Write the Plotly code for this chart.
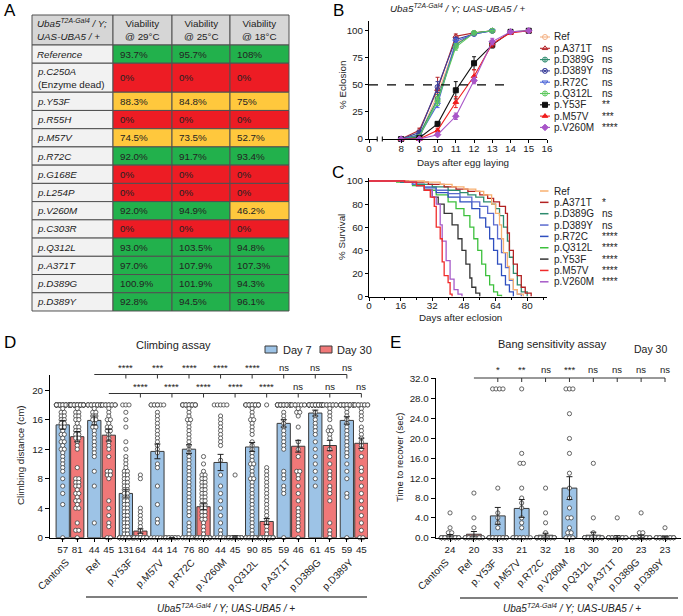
import plotly.graph_objects as go
import numpy as np

W, H = 683, 616
FONT = "Arial, 'Liberation Sans', Helvetica, sans-serif"
TXT = "#222222"


def X(px):
    return px / W


def Y(py):
    return 1 - py / H


# ---------------- Panel A : viability table ----------------
a_rows = ["Reference", "p.C250A", "p.Y53F", "p.R55H", "p.M57V", "p.R72C", "p.G168E",
          "p.L254P", "p.V260M", "p.C303R", "p.Q312L", "p.A371T", "p.D389G", "p.D389Y"]
a_cols = ["Viability<br>@ 29°C", "Viability<br>@ 25°C", "Viability<br>@ 18°C"]
via_29 = ["93.7%", "0%", "88.3%", "0%", "74.5%", "92.0%", "0%", "0%", "92.0%", "0%",
          "93.0%", "97.0%", "100.9%", "92.8%"]
via_25 = ["95.7%", "0%", "84.8%", "0%", "73.5%", "91.7%", "0%", "0%", "94.9%", "0%",
          "103.5%", "107.9%", "101.9%", "94.5%"]
via_18 = ["108%", "0%", "75%", "0%", "52.7%", "93.4%", "0%", "0%", "46.2%", "0%",
          "94.8%", "107.3%", "94.3%", "96.1%"]

# ---------------- Panel B : eclosion ----------------
b_names = ["Ref", "p.A371T", "p.D389G", "p.D389Y", "p.R72C", "p.Q312L", "p.Y53F", "p.M57V", "p.V260M"]
b_sig = ["", "ns", "ns", "ns", "ns", "ns", "**", "***", "****"]
b_days_fast = [8, 9, 10, 11, 12, 13]
b_days_slow = [8, 9, 10, 11, 12, 13, 14, 15]
ecl_ref = [0, 3, 41, 88, 98, 100]
ecl_a371t = [0, 8, 46, 95, 98, 100]
ecl_d389g = [0, 4, 37, 87, 98, 100]
ecl_d389y = [0, 6, 48, 92, 97, 100]
ecl_r72c = [0, 3, 32, 90, 97, 100]
ecl_q312l = [0, 2, 35, 85, 98, 100]
ecl_y53f = [0, 1, 14, 45, 70, 87, 99, 100]
ecl_m57v = [0, 0, 8, 34, 58, 88, 98, 100]
ecl_v260m = [0, 0, 4, 21, 54, 90, 99, 100]
err_ref = [0, 1, 5, 3, 1, 0]
err_a371t = [0, 2, 11, 2, 1, 0]
err_d389g = [0, 1, 4, 3, 1, 0]
err_d389y = [0, 1, 5, 2, 1, 0]
err_r72c = [0, 1, 3, 3, 1, 0]
err_q312l = [0, 1, 4, 3, 1, 0]
err_y53f = [0, 0.5, 2, 8, 6, 3, 1, 0]
err_m57v = [0, 0, 2, 5, 6, 3, 1, 0]
err_v260m = [0, 0, 1, 3, 3, 3, 1, 0]

# ---------------- Panel C : survival ----------------
c_names = ["Ref", "p.A371T", "p.D389G", "p.D389Y", "p.R72C", "p.Q312L", "p.Y53F", "p.M57V", "p.V260M"]
c_sig = ["", "*", "ns", "ns", "****", "****", "****", "****", "****"]
sd_ref = [0, 20, 28, 36, 42, 48, 54, 58, 62, 64, 66, 67, 68, 70, 71, 73, 75, 78]
sv_ref = [100, 100, 99, 97, 95, 93, 91, 88, 80, 72, 62, 50, 38, 26, 15, 6, 2, 0]
sd_a371t = [0, 20, 30, 38, 44, 50, 56, 60, 63, 66, 69, 70, 71, 73, 75, 77, 79, 82]
sv_a371t = [100, 99, 97, 95, 93, 91, 88, 85, 82, 78, 72, 55, 40, 28, 18, 8, 3, 0]
sd_d389g = [0, 16, 24, 32, 40, 46, 50, 54, 58, 62, 64, 66, 68, 70, 71, 73, 75, 77, 80]
sv_d389g = [100, 99, 97, 95, 92, 90, 88, 86, 82, 80, 76, 70, 60, 48, 34, 20, 10, 4, 0]
sd_d389y = [0, 16, 22, 28, 34, 40, 46, 52, 56, 60, 63, 65, 67, 69, 71, 73, 75, 77]
sv_d389y = [100, 99, 97, 95, 92, 89, 86, 82, 78, 72, 62, 50, 38, 25, 14, 6, 2, 0]
sd_r72c = [0, 16, 22, 28, 34, 40, 46, 52, 56, 59, 61, 63, 65, 67, 69, 71, 73]
sv_r72c = [100, 99, 97, 94, 90, 86, 82, 76, 68, 60, 50, 40, 28, 18, 10, 4, 0]
sd_q312l = [0, 14, 22, 28, 34, 40, 44, 48, 51, 53, 55, 57, 59, 61, 63, 65, 67]
sv_q312l = [100, 99, 96, 92, 88, 82, 76, 70, 60, 50, 40, 28, 18, 10, 4, 1, 0]
sd_y53f = [0, 16, 24, 28, 32, 35, 38, 42, 45, 47, 49, 51, 52, 54, 56]
sv_y53f = [100, 99, 96, 92, 86, 80, 72, 62, 50, 40, 28, 16, 8, 3, 0]
sd_m57v = [0, 18, 24, 28, 31, 33, 34, 36, 37, 38, 40, 41, 42]
sv_m57v = [100, 99, 96, 92, 86, 78, 60, 50, 30, 18, 12, 2, 0]
sd_v260m = [0, 18, 24, 28, 32, 34, 36, 37, 39, 41, 43, 45, 47]
sv_v260m = [100, 99, 96, 92, 86, 80, 62, 48, 31, 15, 6, 2, 0]

# ---------------- Panel D : climbing ----------------
d_groups = ["CantonS", "Ref", "p.Y53F", "p.M57V", "p.R72C", "p.V260M", "p.Q312L", "p.A371T", "p.D389G", "p.D389Y"]
d_n7 = ["57", "44", "131", "44", "76", "44", "90", "59", "61", "59"]
d_n30 = ["81", "45", "64", "14", "80", "45", "85", "46", "45", "45"]
d_mean7 = [15.3, 15.9, 6.0, 11.7, 12.0, 10.2, 12.3, 15.5, 16.9, 15.9]
d_sem7 = [0.6, 0.6, 0.5, 1.0, 0.6, 1.1, 0.6, 0.5, 0.4, 0.5]
d_mean30 = [13.7, 13.9, 0.9, 0.0, 4.2, 0.15, 2.2, 12.4, 12.5, 12.8]
d_sem30 = [0.7, 0.8, 0.3, 0.0, 0.4, 0.1, 0.4, 0.8, 0.7, 0.7]
d_sig7 = ["****", "***", "****", "****", "****", "ns", "ns", "ns"]
d_sig30 = ["****", "****", "****", "****", "****", "ns", "ns", "ns"]
pts7_cantons = [18] * 26 + [17.5, 17, 17, 16.5, 16.5, 16, 16, 15.5, 15.5, 15, 15, 14.5, 14, 14, 13.5, 13, 13,
                            12.5, 12, 12, 11.5, 11, 10.5, 10, 9.5, 9, 8, 7, 6, 4.5, 0]
pts30_cantons = [18] * 30 + [17.5, 17, 17, 16.5, 16.5, 16, 16, 15.5, 15, 15, 14.5, 14.5, 14, 14, 13.5, 13.5, 13,
                             12.5, 12, 9.5, 8, 8, 7.5, 7.5, 7, 7, 6.5, 6, 6, 5.5, 5, 5, 4.5, 4, 4, 2, 1, 1, 0]
pts7_ref = [18] * 20 + [17.5, 17, 17, 16.5, 16.5, 16, 16, 15.5, 15, 15, 14.5, 14, 13.5, 13, 12.5, 12, 11.5, 11,
                        9, 7, 2]
pts30_ref = [18] * 15 + [17.5, 17, 16.5, 16, 16, 15.5, 15, 15, 14.5, 14.5, 14, 13.5, 13, 12.5, 12, 11, 9, 9,
                         8.5, 8.5, 8, 5, 4, 3, 2, 1.5, 0, 0]
pts7_y53f = [18, 18, 18, 17, 16, 15, 13, 12, 11, 10.5, 10, 9.5, 9, 9, 8.5, 8.5, 8, 8, 7.5, 7.5, 7, 7, 6.5,
             6.5, 6, 6, 5.5, 5.5, 5, 5, 4.5, 4.5, 4, 4, 3.5, 3.5, 3, 3, 2.5, 2.5, 2, 2, 1.5, 1.5, 1, 1,
             0.5, 0.5] + [0] * 24
pts30_y53f = [8.5, 8, 4, 3.5, 3, 2.5, 2, 1.5, 1, 0.5] + [0] * 25
pts7_m57v = [18] * 8 + [17, 16.5, 16, 15.5, 15, 14.5, 14, 13.5, 13, 12.5, 12, 11.5, 10, 9.5, 7, 4.5, 2.5, 2,
                        0, 0, 0, 0, 0]
pts30_m57v = [0] * 14
pts7_r72c = [18] * 20 + [17.5, 17, 16.5, 16, 16, 15.5, 15, 14.5, 14, 13.5, 13, 12.5, 12, 11.5, 11, 10.5, 10,
                         9.5, 9, 8.5, 8, 7.5, 7, 6.5, 6, 5.5, 5, 4.5, 4, 3.5, 3, 2, 1.5, 1, 0.5] + [0] * 10
pts30_r72c = [11, 10, 9, 8.5, 8.5, 8, 8, 7.5, 7.5, 7, 7, 6.5, 6.5, 6, 6, 5.5, 5.5, 5, 5, 4.5, 4.5, 4, 4,
              3.5, 3.5, 3, 3, 2.5, 2.5, 2, 1.5, 1, 0.5] + [0] * 24
pts7_v260m = [18] * 5 + [16.5, 16, 15.5, 15, 14.5, 14, 13.5, 13, 12.5, 10.5, 8.5, 7, 6, 5, 4, 3, 2, 1,
                         0.5, 0, 0, 0, 0, 0]
pts30_v260m = [8.5] + [0] * 24
pts7_q312l = [18] * 20 + [17.5, 17, 16.5, 16, 16, 15.5, 15, 14.5, 14, 13, 12.5, 12, 11.5, 11, 10.5, 10, 10,
                          9.5, 9, 8.5, 8, 8, 7.5, 7, 6.5, 6, 5.5, 5, 4.5, 4, 3.5, 3, 2.5, 2, 1.5, 1, 0.5] + [0] * 14
pts30_q312l = [18, 9.5, 9, 8.5, 8, 7.5, 7, 6.5, 6, 5.5, 5, 4.5, 4, 3.5, 3, 2.5, 2, 1.5, 1, 0.5] + [0] * 26
pts7_a371t = [18] * 25 + [17, 16.5, 16, 15.5, 15, 14.5, 14, 13.5, 13, 12.5, 12, 9, 8.5, 8, 7, 6.5, 6, 0]
pts30_a371t = [18] * 12 + [17.5, 17, 17, 16.5, 15, 13, 12, 11, 9, 9, 8.5, 8, 7, 6, 5, 4, 3.5, 3, 2.5, 2,
                           1.5, 1, 0]
pts7_d389g = [18] * 35 + [17, 16.5, 16, 15.5, 15, 14.5, 14, 13, 12, 11, 10, 9, 8, 7]
pts30_d389g = [18] * 15 + [17.5, 17, 16.5, 16, 15, 14.5, 14.5, 14, 13.5, 12, 11, 10, 9, 8.5, 8, 7, 6.5, 6, 5,
                           2, 1, 0.5, 0]
pts7_d389y = [18] * 25 + [17.5, 17, 16.5, 16, 15.5, 15, 14.5, 14, 13.5, 13, 12.5, 12, 11.5, 11, 10, 9, 8, 6,
                          5.5, 0]
pts30_d389y = [18] * 12 + [17.5, 17, 16.5, 16, 15, 14.5, 14, 13.5, 13, 12.5, 12, 11, 9.5, 9, 8, 7, 6, 5, 4,
                           3, 2, 1, 0, 0]
d_pts7 = [pts7_cantons, pts7_ref, pts7_y53f, pts7_m57v, pts7_r72c, pts7_v260m, pts7_q312l, pts7_a371t,
          pts7_d389g, pts7_d389y]
d_pts30 = [pts30_cantons, pts30_ref, pts30_y53f, pts30_m57v, pts30_r72c, pts30_v260m, pts30_q312l,
           pts30_a371t, pts30_d389g, pts30_d389y]

# ---------------- Panel E : bang sensitivity ----------------
e_groups = ["CantonS", "Ref", "p.Y53F", "p.M57V", "p.R72C", "p.V260M", "p.Q312L", "p.A371T", "p.D389G", "p.D389Y"]
e_n = ["24", "20", "33", "21", "32", "18", "30", "20", "23", "23"]
e_mean = [0.4, 0.7, 4.4, 5.9, 0.5, 10.0, 0.5, 0.2, 0.3, 0.1]
e_sem = [0.25, 0.55, 1.7, 1.8, 0.4, 2.3, 0.6, 0.2, 0.25, 0.1]
e_sig = ["*", "**", "ns", "***", "ns", "ns", "ns", "ns"]
e_pts = [
    [5, 2, 1, 1] + [0] * 20,
    [9, 4, 2] + [0] * 17,
    [30, 30, 30, 30, 10, 5, 4, 3, 2] + [0] * 24,
    [30, 17, 15, 15, 10, 8, 7, 6, 4, 3, 2] + [0] * 10,
    [10, 5, 3, 1] + [0] * 28,
    [30, 30, 30, 25, 20, 17, 13, 10, 8, 6, 4, 4, 2, 1, 1, 0, 0, 0],
    [15, 4, 1] + [0] * 27,
    [4] + [0] * 19,
    [5, 1, 1] + [0] * 20,
    [2] + [0] * 22,
]

# ---------------- styling ----------------
b_colors = ["#F4B183", "#B5262B", "#2E8B6E", "#3A3F9A", "#4A64D8", "#5CC85C", "#111111", "#F01E1E", "#A855C8"]
b_symbols = ["circle-open", "triangle-up-open", "circle-cross-open", "circle-x-open", "triangle-down-open",
             "circle-cross-open", "square", "triangle-up", "diamond"]
c_colors = ["#F8B070", "#B22222", "#2E8B6E", "#5A6ACF", "#2F4FBF", "#3CC03C", "#333333", "#F02A2A", "#A65AC8"]
BLUE = "#9DC3E6"
SALMON = "#F07878"
EDGE = "#3a3a3a"

fig = go.Figure()
shapes = []
ann = []


def add_text(x, y, text, size=10, xanchor="center", yanchor="middle", angle=0, color=TXT, xref="paper",
             yref="paper", align="center"):
    ann.append(dict(x=x, y=y, xref=xref, yref=yref, text=text, showarrow=False, xanchor=xanchor,
                    yanchor=yanchor, textangle=angle, align=align,
                    font=dict(family=FONT, size=size, color=color)))


# ---------- Panel A table ----------
col_x = [32, 113, 172, 230, 289]
row_h = [18.23] * len(a_rows)
row_h[1] = 29
y_edges = [15, 45]
for h in row_h:
    y_edges.append(y_edges[-1] + h)


def cell_color(s):
    v = float(s.strip("%"))
    if v == 0:
        return "#ED1C24"
    if v < 90:
        return "#FFC83D"
    return "#22B14C"


def rect(x0, y0, x1, y1, fill):
    shapes.append(dict(type="rect", xref="paper", yref="paper", x0=X(x0), x1=X(x1), y0=Y(y1), y1=Y(y0),
                       fillcolor=fill, line=dict(color="#505050", width=1), layer="below"))


for c in range(4):
    rect(col_x[c], y_edges[0], col_x[c + 1], y_edges[1], "#D6D6D6")
add_text(X(35), Y(30), "<i>Uba5<sup>T2A-Gal4</sup> / Y;<br>UAS-UBA5 / +</i>", size=9.8, xanchor="left",
         align="left")
for c, lab in enumerate(a_cols):
    add_text(X((col_x[c + 1] + col_x[c + 2]) / 2), Y(30), lab, size=9.8)
vals = [via_29, via_25, via_18]
for r, name in enumerate(a_rows):
    t, b = y_edges[r + 1], y_edges[r + 2]
    rect(col_x[0], t, col_x[1], b, "#F2F2F2")
    lab = "<i>%s</i>" % name
    if name == "p.C250A":
        lab = "<i>p.C250A</i><br>(Enzyme dead)"
    add_text(X(35), Y((t + b) / 2), lab, size=9.8, xanchor="left", align="left")
    for c in range(3):
        rect(col_x[c + 1], t, col_x[c + 2], b, cell_color(vals[c][r]))
        add_text(X(col_x[c + 1] + 5), Y((t + b) / 2), vals[c][r], size=9.8, xanchor="left")

# ---------- Panel B ----------
b_x = [b_days_fast] * 6 + [b_days_slow] * 3
b_y = [ecl_ref, ecl_a371t, ecl_d389g, ecl_d389y, ecl_r72c, ecl_q312l, ecl_y53f, ecl_m57v, ecl_v260m]
b_e = [err_ref, err_a371t, err_d389g, err_d389y, err_r72c, err_q312l, err_y53f, err_m57v, err_v260m]
for i in range(9):
    fig.add_trace(go.Scatter(x=b_x[i], y=b_y[i], mode="lines+markers", xaxis="x", yaxis="y",
                             line=dict(color=b_colors[i], width=1.1),
                             marker=dict(symbol=b_symbols[i], size=5, color=b_colors[i],
                                         line=dict(color=b_colors[i], width=1)),
                             error_y=dict(type="data", array=b_e[i], color=b_colors[i], thickness=1, width=2),
                             cliponaxis=False, showlegend=False))
B_ZERO = 6.24
shapes.append(dict(type="line", xref="x", yref="y", x0=B_ZERO, x1=13.83, y0=50, y1=50,
                   line=dict(color="black", width=1.2, dash="dash")))
# axis break on x
shapes.append(dict(type="rect", xref="x", yref="paper", x0=6.69, x1=6.97, y0=Y(141), y1=Y(137),
                   fillcolor="white", line=dict(width=0), layer="above"))
for xb in (6.69, 6.97):
    shapes.append(dict(type="line", xref="x", yref="paper", x0=xb, x1=xb, y0=Y(141.5), y1=Y(136.5),
                       line=dict(color="black", width=1), layer="above"))
add_text(X(458), Y(8), "<i>Uba5<sup>T2A-Gal4</sup> / Y; UAS-UBA5 / +</i>", size=9.8)
add_text(X(342), Y(85), "% Eclosion", size=9.8, angle=-90)
add_text(X(463), Y(162), "Days after egg laying", size=9.8)
for k in range(9):
    yy = 37 + k * 11.3
    fig.add_trace(go.Scatter(x=[540, 550], y=[yy, yy], mode="lines", xaxis="x5", yaxis="y5",
                             line=dict(color=b_colors[k], width=1.1), showlegend=False))
    fig.add_trace(go.Scatter(x=[545], y=[yy], mode="markers", xaxis="x5", yaxis="y5",
                             marker=dict(symbol=b_symbols[k], size=5, color=b_colors[k],
                                         line=dict(color=b_colors[k], width=1)), showlegend=False))
    add_text(X(552), Y(yy), b_names[k], size=10, xanchor="left")
    if b_sig[k]:
        add_text(X(600), Y(yy), b_sig[k], size=10, xanchor="left")

# ---------- Panel C ----------
c_d = [sd_ref, sd_a371t, sd_d389g, sd_d389y, sd_r72c, sd_q312l, sd_y53f, sd_m57v, sd_v260m]
c_v = [sv_ref, sv_a371t, sv_d389g, sv_d389y, sv_r72c, sv_q312l, sv_y53f, sv_m57v, sv_v260m]
for i in [6, 5, 4, 3, 2, 1, 0, 8, 7]:
    fig.add_trace(go.Scatter(x=c_d[i], y=c_v[i], mode="lines", line_shape="hv", xaxis="x2", yaxis="y2",
                             line=dict(color=c_colors[i], width=1.3), cliponaxis=False, showlegend=False))
add_text(X(342), Y(237), "% Survival", size=9.8, angle=-90)
add_text(X(460), Y(317), "Days after eclosion", size=9.8)
for k in range(9):
    yy = 191 + k * 11.35
    fig.add_trace(go.Scatter(x=[540, 548.5], y=[yy, yy], mode="lines", xaxis="x5", yaxis="y5",
                             line=dict(color=c_colors[k], width=1.5), showlegend=False))
    add_text(X(552), Y(yy), c_names[k], size=10, xanchor="left")
    if c_sig[k]:
        add_text(X(600), Y(yy), c_sig[k], size=10, xanchor="left")


# ---------- beeswarm helper ----------
def swarm(values, step, dx, maxw):
    v = np.asarray(values, float)
    keys = np.round(v / step).astype(int)
    offs = np.zeros(len(v))
    for k in np.unique(keys):
        idx = np.where(keys == k)[0]
        w = min(len(idx), maxw)
        base = (np.arange(w) - (w - 1) / 2) * dx
        for j, ii in enumerate(idx):
            offs[ii] = base[j % w]
    return offs


PT = dict(symbol="circle", size=4.2, color="white", line=dict(color="#404040", width=0.8))

# ---------- Panel D ----------
OFF = 0.23
n = len(d_groups)
x7 = [i - OFF for i in range(n)]
x30 = [i + OFF for i in range(n)]
fig.add_trace(go.Bar(x=x7, y=d_mean7, width=0.42, xaxis="x3", yaxis="y3",
                     marker=dict(color=BLUE, line=dict(color=EDGE, width=1)), showlegend=False))
fig.add_trace(go.Bar(x=x30, y=d_mean30, width=0.42, xaxis="x3", yaxis="y3",
                     marker=dict(color=SALMON, line=dict(color=EDGE, width=1)), showlegend=False))
px_all, py_all = [], []
for i in range(n):
    for base, pts in ((x7[i], d_pts7[i]), (x30[i], d_pts30[i])):
        o = swarm(pts, 0.5, 0.1, 5)
        px_all += list(base + o)
        py_all += list(pts)
fig.add_trace(go.Scatter(x=px_all, y=py_all, mode="markers", xaxis="x3", yaxis="y3", marker=PT,
                         cliponaxis=False, showlegend=False))
for xs, m, s in ((x7, d_mean7, d_sem7), (x30, d_mean30, d_sem30)):
    fig.add_trace(go.Scatter(x=xs, y=m, mode="markers", xaxis="x3", yaxis="y3",
                             marker=dict(size=1, color="rgba(0,0,0,0)"),
                             error_y=dict(type="data", array=s, color="#222", thickness=1, width=3),
                             cliponaxis=False, showlegend=False))
# significance brackets
for xs, ytxt, yline, sig in ((x7, 367, 374.5, d_sig7), (x30, 386.5, 393.5, d_sig30)):
    shapes.append(dict(type="line", xref="x3", yref="paper", x0=xs[1], x1=xs[-1], y0=Y(yline), y1=Y(yline),
                       line=dict(color="#333", width=1)))
    for j in range(2, n):
        shapes.append(dict(type="line", xref="x3", yref="paper", x0=xs[j], x1=xs[j], y0=Y(yline),
                           y1=Y(yline + 4), line=dict(color="#333", width=1)))
        add_text(xs[j], Y(ytxt), sig[j - 2], size=9.5, xref="x3")
for i, g in enumerate(d_groups):
    add_text(i + 0.12, Y(554), g, size=10, xanchor="right", yanchor="top", angle=-45, xref="x3")
shapes.append(dict(type="line", xref="paper", yref="paper", x0=X(86), x1=X(367), y0=Y(597), y1=Y(597),
                   line=dict(color="#555", width=1.3)))
add_text(X(226), Y(608), "<i>Uba5<sup>T2A-Gal4</sup> / Y; UAS-UBA5 / +</i>", size=10)
add_text(X(173), Y(345), "Climbing assay", size=11)
add_text(X(20), Y(455), "Climbing distance (cm)", size=9.8, angle=-90)
shapes.append(dict(type="rect", xref="paper", yref="paper", x0=X(265), x1=X(277), y0=Y(353), y1=Y(346),
                   fillcolor=BLUE, line=dict(color=EDGE, width=1)))
add_text(X(281), Y(349.5), "Day 7", size=11, xanchor="left")
shapes.append(dict(type="rect", xref="paper", yref="paper", x0=X(320), x1=X(332), y0=Y(353), y1=Y(346),
                   fillcolor=SALMON, line=dict(color=EDGE, width=1)))
add_text(X(335), Y(349.5), "Day 30", size=11, xanchor="left")

# ---------- Panel E ----------
ex = list(range(len(e_groups)))
e_fill = [SALMON if g == "Ref" else BLUE for g in e_groups]
fig.add_trace(go.Bar(x=ex, y=e_mean, width=0.62, xaxis="x4", yaxis="y4",
                     marker=dict(color=e_fill, line=dict(color=EDGE, width=1)), showlegend=False))
epx, epy = [], []
for i in ex:
    o = swarm(e_pts[i], 1.0, 0.145, 6)
    epx += list(i + o)
    epy += list(e_pts[i])
fig.add_trace(go.Scatter(x=epx, y=epy, mode="markers", xaxis="x4", yaxis="y4", marker=PT,
                         cliponaxis=False, showlegend=False))
fig.add_trace(go.Scatter(x=ex, y=e_mean, mode="markers", xaxis="x4", yaxis="y4",
                         marker=dict(size=1, color="rgba(0,0,0,0)"),
                         error_y=dict(type="data", array=e_sem, color="#222", thickness=1, width=3),
                         cliponaxis=False, showlegend=False))
shapes.append(dict(type="line", xref="x4", yref="paper", x0=1, x1=9, y0=Y(378), y1=Y(378),
                   line=dict(color="#333", width=1)))
for j in range(2, 10):
    shapes.append(dict(type="line", xref="x4", yref="paper", x0=j, x1=j, y0=Y(378), y1=Y(382),
                       line=dict(color="#333", width=1)))
    add_text(j, Y(369.5), e_sig[j - 2], size=9.5, xref="x4")
for i, g in enumerate(e_groups):
    add_text(i + 0.15, Y(554), g, size=10, xanchor="right", yanchor="top", angle=-45, xref="x4")
shapes.append(dict(type="line", xref="paper", yref="paper", x0=X(460), x1=X(678), y0=Y(598), y1=Y(598),
                   line=dict(color="#555", width=1.3)))
add_text(X(572), Y(608), "<i>Uba5<sup>T2A-Gal4</sup> / Y; UAS-UBA5 / +</i>", size=10)
add_text(X(552), Y(344), "Bang sensitivity assay", size=11)
add_text(X(650), Y(349), "Day 30", size=10.5)
add_text(X(399), Y(458), "Time to recover (sec)", size=9.5, angle=-90)

# panel letters
for L, xx, yy in (("A", 10, 10), ("B", 338, 10), ("C", 338, 172), ("D", 10, 343), ("E", 395, 343)):
    add_text(X(xx), Y(yy), L, size=17, color="black")

AX = dict(showline=True, linecolor="black", linewidth=1, ticks="outside", ticklen=3, tickwidth=1,
          tickcolor="black", showgrid=False, zeroline=False, fixedrange=True,
          tickfont=dict(family=FONT, size=9.8, color=TXT))

fig.update_layout(
    width=W, height=H, margin=dict(l=0, r=0, t=0, b=0, pad=0, autoexpand=False),
    paper_bgcolor="white", plot_bgcolor="rgba(0,0,0,0)",
    barmode="overlay", hovermode=False, showlegend=False,
    font=dict(family=FONT, color=TXT),
    xaxis=dict(AX, domain=[X(369), X(547)], range=[B_ZERO, 16], anchor="y", ticklabelstandoff=-3,
               tickvals=[B_ZERO] + list(range(8, 17)), ticktext=["0"] + [str(d) for d in range(8, 17)]),
    yaxis=dict(AX, domain=[Y(139), Y(21)], range=[0, 109], anchor="x", tickvals=[0, 25, 50, 75, 100]),
    xaxis2=dict(AX, domain=[X(369), X(547)], range=[0, 90], anchor="y2", tickvals=[0, 16, 32, 48, 64, 80],
                ticklabelstandoff=-3,
                minor=dict(tickvals=[8, 24, 40, 56, 72, 88], ticks="outside", ticklen=2, tickcolor="black")),
    yaxis2=dict(AX, domain=[Y(296.5), Y(178)], range=[0, 102.6], anchor="x2",
                tickvals=[0, 20, 40, 60, 80, 100]),
    xaxis3=dict(AX, domain=[X(50), X(368)], range=[-0.633, 9.44], anchor="y3",
                tickvals=x7 + x30, ticktext=d_n7 + d_n30),
    yaxis3=dict(AX, domain=[Y(537.7), Y(375)], range=[0, 22.06], anchor="x3", ticklen=4,
                tickvals=[0, 4, 8, 12, 16, 20]),
    xaxis4=dict(AX, domain=[X(435.7), X(681)], range=[-0.6, 9.67], anchor="y4",
                tickvals=ex, ticktext=e_n),
    yaxis4=dict(AX, domain=[Y(537.7), Y(378)], range=[0, 32.2], anchor="x4", ticklen=4,
                tickvals=[0, 4, 8, 12, 16, 20, 24, 28, 32], tickformat=".1f"),
    xaxis5=dict(domain=[0, 1], range=[0, W], visible=False, fixedrange=True, anchor="y5"),
    yaxis5=dict(domain=[0, 1], range=[H, 0], visible=False, fixedrange=True, anchor="x5"),
    shapes=shapes, annotations=ann,
)

fig.write_html("out.html", config={"displayModeBar": False},
               post_script="document.body.style.margin='0';document.body.style.overflow='hidden';")
